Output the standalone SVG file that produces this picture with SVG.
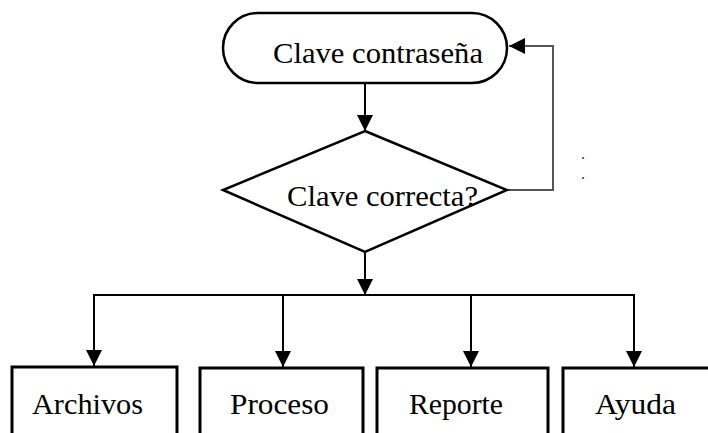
<svg xmlns="http://www.w3.org/2000/svg" width="708" height="433" viewBox="0 0 708 433">
  <style>
    .shape { fill: #fff; stroke: #000; stroke-width: 2.5; }
    .box { fill: #fff; stroke: #000; stroke-width: 3; }
    .wire { fill: none; stroke: #000; stroke-width: 2; }
    .loop { fill: none; stroke: #555; stroke-width: 2; }
  </style>
  <defs>
    <marker id="arrow" viewBox="0 0 16 16" refX="16" refY="8" markerWidth="16" markerHeight="16" markerUnits="userSpaceOnUse" orient="auto">
      <path d="M0,0 L16,8 L0,16 Z" fill="#000"/>
    </marker>
  </defs>
  <rect width="708" height="433" fill="#fff"/>

  <g id="connectors">
    <!-- start to decision -->
    <line class="wire" x1="365" y1="84" x2="365" y2="131" marker-end="url(#arrow)"/>
    <!-- retry loop back to password entry -->
    <polyline class="loop" points="507,190 553,190 553,46 509,46" marker-end="url(#arrow)"/>
    <!-- decision down to bus -->
    <line class="wire" x1="365" y1="252" x2="365" y2="295" marker-end="url(#arrow)"/>
    <!-- bus -->
    <line class="wire" x1="93" y1="295" x2="635" y2="295"/>
    <line class="wire" x1="94" y1="295" x2="94" y2="366" marker-end="url(#arrow)"/>
    <line class="wire" x1="283" y1="295" x2="283" y2="367" marker-end="url(#arrow)"/>
    <line class="wire" x1="471" y1="295" x2="471" y2="367" marker-end="url(#arrow)"/>
    <line class="wire" x1="634" y1="295" x2="634" y2="367" marker-end="url(#arrow)"/>
  </g>

  <g font-family="Liberation Serif, Times New Roman, Times, serif" font-size="30" fill="#000">
    <g id="clave-contrasena">
      <rect class="shape" x="223" y="13" width="284" height="70" rx="35" ry="35"/>
      <text x="273" y="63" textLength="210" lengthAdjust="spacingAndGlyphs">Clave contraseña</text>
    </g>

    <g id="clave-correcta">
      <polygon class="shape" points="365,131 507,190 365,252 223,190"/>
      <text x="287" y="206" textLength="191" lengthAdjust="spacingAndGlyphs">Clave correcta?</text>
    </g>

    <g id="marks" font-size="16" fill="#333">
      <text x="581" y="159">.</text>
      <text x="581" y="179">.</text>
    </g>

    <g id="archivos">
      <rect class="box" x="12" y="367" width="165" height="80"/>
      <text x="32" y="414" textLength="111" lengthAdjust="spacingAndGlyphs">Archivos</text>
    </g>
    <g id="proceso">
      <rect class="box" x="200" y="368" width="163" height="80"/>
      <text x="230" y="414" textLength="99" lengthAdjust="spacingAndGlyphs">Proceso</text>
    </g>
    <g id="reporte">
      <rect class="box" x="377" y="368" width="171" height="80"/>
      <text x="409" y="414" textLength="94" lengthAdjust="spacingAndGlyphs">Reporte</text>
    </g>
    <g id="ayuda">
      <rect class="box" x="563" y="368" width="160" height="80"/>
      <text x="595" y="414" textLength="81" lengthAdjust="spacingAndGlyphs">Ayuda</text>
    </g>
  </g>
</svg>
